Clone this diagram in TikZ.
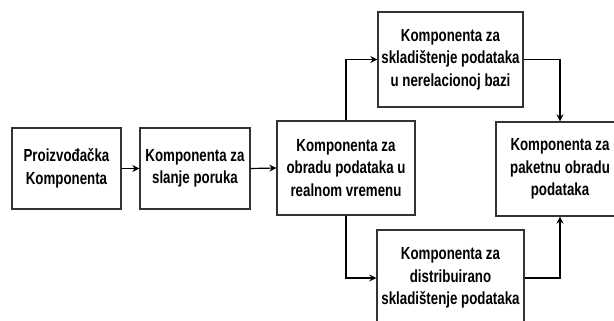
\documentclass[tikz,border=0pt]{standalone}
\usepackage{fontspec}
\setmainfont[FakeStretch=0.76]{Liberation Sans}
\usetikzlibrary{arrows.meta}
\tikzset{
  comp/.style={draw=black!80, line width=1.3bp, rectangle, inner sep=0pt, align=center,
    font=\fontsize{17.5bp}{22.5bp}\selectfont\bfseries},
  conn/.style={line width=1.2bp, -{Stealth[length=7bp,width=7bp]}}
}
\begin{document}
\begin{tikzpicture}[x=1bp,y=-1bp]
\useasboundingbox (0,0) rectangle (614,320);
\clip (0,0) rectangle (614,320);
\node[comp, minimum width=109bp, minimum height=81bp] (b1) at (66.5,168.5) {Proizvođačka\\Komponenta};
\node[comp, minimum width=110bp, minimum height=81bp] (b2) at (195,168.5) {Komponenta za\\slanje poruka};
\node[comp, minimum width=138bp, minimum height=94bp] (b3) at (346,168) {Komponenta za\\obradu podataka u\\realnom vremenu};
\node[comp, minimum width=145bp, minimum height=95bp] (b4) at (450.5,59.5) {Komponenta za\\skladištenje podataka\\u nerelacionoj bazi};
\node[comp, minimum width=128bp, minimum height=94bp] (b5) at (560,169) {Komponenta za\\paketnu obradu\\podataka};
\node[comp, minimum width=147bp, minimum height=96bp] (b6) at (450.5,278) {Komponenta za\\distribuirano\\skladištenje podataka};
\draw[conn] (b1.east) -- (b2.west);
\draw[conn] (b2.east) -- (b3.west);
\draw[conn] (b3.north) |- (b4.west);
\draw[conn] (b4.east) -| (b5.north);
\draw[conn] (b3.south) |- (b6.west);
\draw[conn] (b6.east) -| (b5.south);
\end{tikzpicture}
\end{document}
